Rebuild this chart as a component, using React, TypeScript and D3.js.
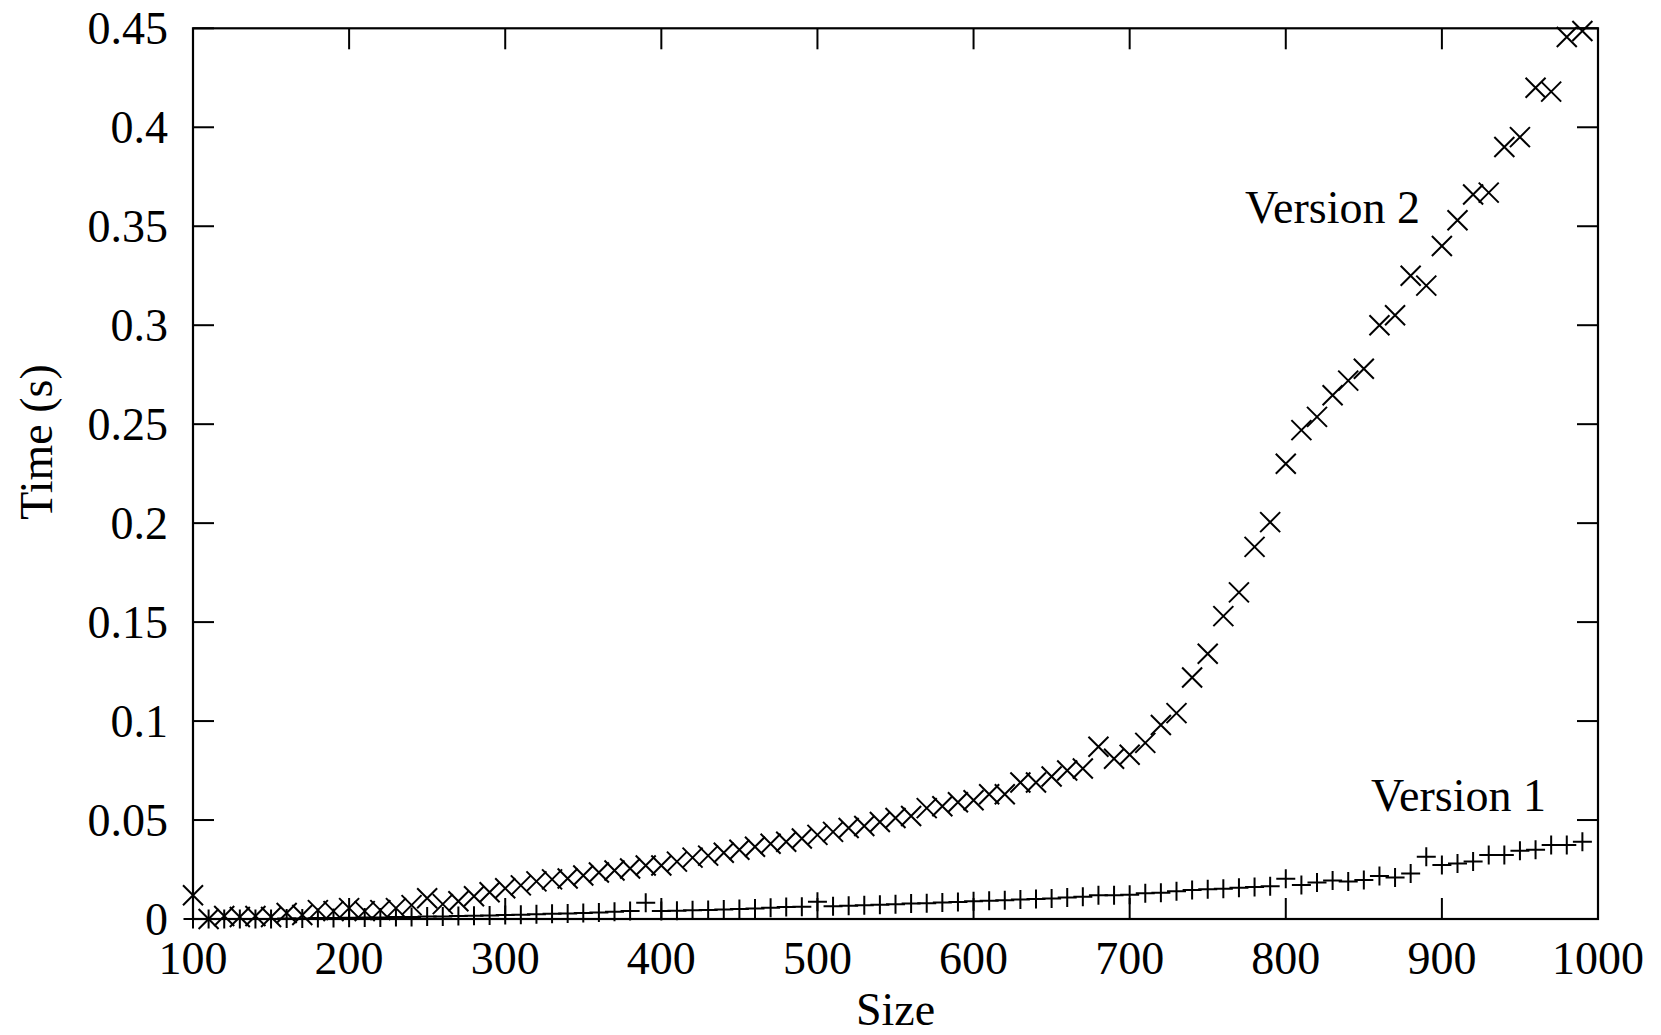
import React from 'react';
import * as d3 from 'd3';

const sizes = [100,110,120,130,140,150,160,170,180,190,200,210,220,230,240,250,260,270,280,290,300,310,320,330,340,350,360,370,380,390,400,410,420,430,440,450,460,470,480,490,500,510,520,530,540,550,560,570,580,590,600,610,620,630,640,650,660,670,680,690,700,710,720,730,740,750,760,770,780,790,800,810,820,830,840,850,860,870,880,890,900,910,920,930,940,950,960,970,980,990];

const version1 = [0,0,0,0,0,0,0.0003,0.0003,0.0005,0.0005,0.0006,0.0007,0.0008,0.001,0.001,0.0012,0.0013,0.0015,0.0016,0.0018,0.002,0.0022,0.0024,0.0026,0.0028,0.003,0.0033,0.0036,0.004,0.0082,0.004,0.0042,0.0044,0.0046,0.0048,0.005,0.0053,0.0057,0.006,0.0062,0.0087,0.0065,0.0067,0.0069,0.0072,0.0075,0.0078,0.008,0.0083,0.0086,0.009,0.0092,0.0095,0.0098,0.0101,0.0104,0.0108,0.0112,0.012,0.012,0.0122,0.013,0.0133,0.014,0.0146,0.015,0.0153,0.0158,0.0162,0.0165,0.0203,0.0172,0.0184,0.0195,0.019,0.0197,0.0217,0.021,0.023,0.0315,0.0273,0.028,0.029,0.0323,0.0323,0.0345,0.035,0.0374,0.0374,0.039];

const version2 = [0.012,0.0,0.0015,0.001,0.0015,0.001,0.003,0.002,0.0045,0.004,0.0055,0.004,0.0045,0.0055,0.007,0.0105,0.0075,0.009,0.0115,0.0135,0.0155,0.017,0.019,0.02,0.0205,0.022,0.0235,0.0245,0.0255,0.027,0.027,0.029,0.031,0.032,0.0335,0.035,0.0365,0.038,0.039,0.0407,0.0425,0.044,0.046,0.047,0.049,0.051,0.052,0.056,0.057,0.059,0.06,0.063,0.063,0.069,0.069,0.072,0.075,0.076,0.087,0.081,0.083,0.089,0.098,0.104,0.122,0.134,0.153,0.165,0.188,0.2005,0.23,0.247,0.2537,0.2646,0.272,0.278,0.3,0.305,0.325,0.32,0.34,0.353,0.366,0.367,0.39,0.395,0.42,0.418,0.4456,0.4486];

const xTicks = [100,200,300,400,500,600,700,800,900,1000];
const yTicks = [0,0.05,0.1,0.15,0.2,0.25,0.3,0.35,0.4,0.45];
const yTickLabels = ['0','0.05','0.1','0.15','0.2','0.25','0.3','0.35','0.4','0.45'];

const W = 1661;
const H = 1035;
const FONT = '"Liberation Serif", "Times New Roman", serif';

export default function App() {
  const left = 193, right = 1598, top = 28.3, bottom = 919;
  const x = d3.scaleLinear().domain([100, 1000]).range([left, right]);
  const y = d3.scaleLinear().domain([0, 0.45]).range([bottom, top]);
  const tickLen = 21;
  const crossPath = 'M-10,-10L10,10M-10,10L10,-10';
  const plusPath = 'M-9.5,0H9.5M0,-9.5V9.5';

  return (
    <svg width={W} height={H} style={{ position: 'absolute', left: 0, top: 0, background: '#fff' }}
      fontFamily={FONT}>
      <rect x={0} y={0} width={W} height={H} fill="#fff" />
      {/* ticks */}
      <g stroke="#000" strokeWidth={2}>
        {xTicks.map((t) => (
          <g key={'xt' + t}>
            <line x1={x(t)} x2={x(t)} y1={bottom} y2={bottom - tickLen} />
            <line x1={x(t)} x2={x(t)} y1={top} y2={top + tickLen} />
          </g>
        ))}
        {yTicks.map((t) => (
          <g key={'yt' + t}>
            <line x1={left} x2={left + tickLen} y1={y(t)} y2={y(t)} />
            <line x1={right} x2={right - tickLen} y1={y(t)} y2={y(t)} />
          </g>
        ))}
      </g>
      {/* tick labels */}
      <g fontSize={46} fill="#000">
        {xTicks.map((t) => (
          <text key={'xl' + t} x={x(t)} y={974} textAnchor="middle">{t}</text>
        ))}
        {yTicks.map((t, i) => (
          <text key={'yl' + t} x={168} y={y(t) + 16} textAnchor="end">{yTickLabels[i]}</text>
        ))}
      </g>
      {/* axis titles */}
      <text x={(left + right) / 2} y={1025} textAnchor="middle" fontSize={46}>Size</text>
      <text transform={`translate(52,442) rotate(-90)`} textAnchor="middle" fontSize={46}>Time (s)</text>
      {/* series */}
      <g stroke="#000" strokeWidth={2} fill="none">
        {sizes.map((s, i) => (
          <path key={'v1' + s} d={plusPath} transform={`translate(${x(s)},${y(version1[i])})`} />
        ))}
        {sizes.map((s, i) => (
          <path key={'v2' + s} d={crossPath} transform={`translate(${x(s)},${y(version2[i])})`} />
        ))}
      </g>
      {/* series labels */}
      <text x={1420} y={223} textAnchor="end" fontSize={46}>Version 2</text>
      <text x={1546} y={811} textAnchor="end" fontSize={46}>Version 1</text>
      {/* frame */}
      <rect x={left} y={top} width={right - left} height={bottom - top} fill="none" stroke="#000" strokeWidth={2.2} />
    </svg>
  );
}
